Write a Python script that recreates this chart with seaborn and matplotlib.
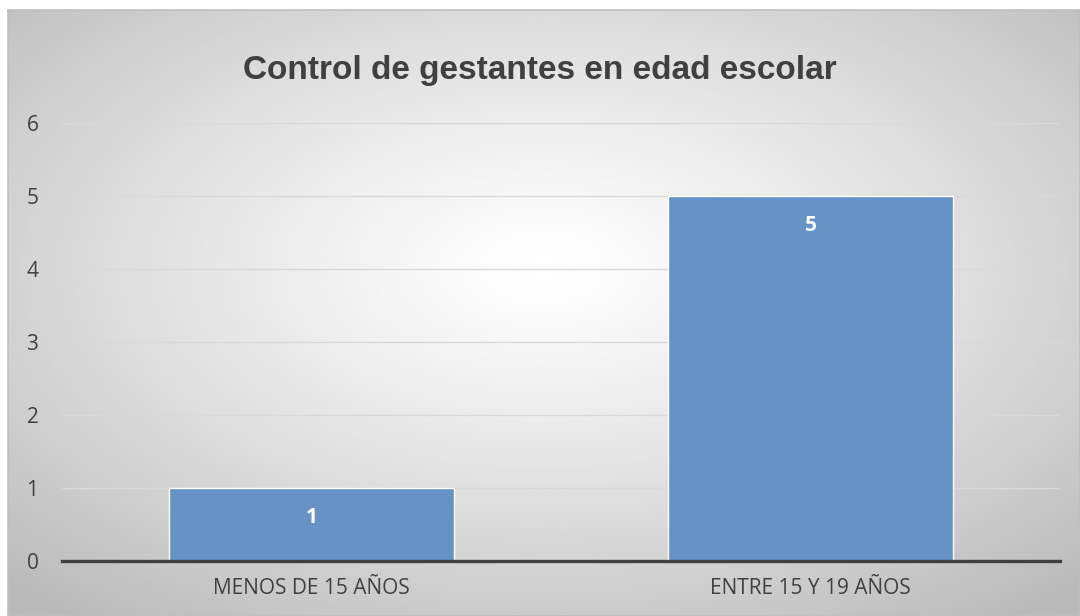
import numpy as np
import pandas as pd
import matplotlib
matplotlib.use("Agg")
import matplotlib.pyplot as plt
import seaborn as sns

# Data
categorias = ["MENOS DE 15 AÑOS", "ENTRE 15 Y 19 AÑOS"]
valores = [1, 5]
titulo = "Control de gestantes en edad escolar"

df = pd.DataFrame({"grupo": categorias, "gestantes": valores})

sns.set_theme(style="white")
plt.rcParams["font.family"] = ["Open Sans", "DejaVu Sans"]

fig = plt.figure(figsize=(10.8, 6.16), dpi=100)
fig.patch.set_facecolor("white")

# Radial gradient background (chart area)
bg = fig.add_axes([8 / 1080, 0, 1 - 8 / 1080, 1 - 10 / 616])
xx, yy = np.meshgrid(np.linspace(-1, 1, 400), np.linspace(-1, 1, 240))
r = np.sqrt(xx ** 2 + (yy + 0.15) ** 2)
r = np.clip(r / 1.45, 0, 1)
shade = 1.0 - 0.27 * r ** 1.2
bg.imshow(shade, cmap="gray", vmin=0, vmax=1, aspect="auto",
          extent=[0, 1, 0, 1], interpolation="bilinear")
bg.set_xticks([])
bg.set_yticks([])
for s in bg.spines.values():
    s.set_color("#bfbfbf")
    s.set_linewidth(1.2)

# Main plot
ax = fig.add_axes([62 / 1080, 1 - 561 / 616, 998 / 1080, 438 / 616])
ax.patch.set_alpha(0)
sns.barplot(data=df, x="grupo", y="gestantes", color="#6692c6",
            width=0.57, edgecolor="white", linewidth=1, saturation=1, ax=ax)

ax.set_ylim(0, 6)
ax.set_yticks(range(0, 7))
ax.yaxis.grid(True, color="#d9d9d9", linewidth=1)
ax.set_axisbelow(True)
ax.set_xlabel("")
ax.set_ylabel("")
for side in ["left", "right", "top"]:
    ax.spines[side].set_visible(False)
ax.spines["bottom"].set_color("#404040")
ax.spines["bottom"].set_linewidth(2.4)
ax.tick_params(axis="both", length=0, labelsize=15, colors="#404040")
ax.tick_params(axis="x", pad=12)
ax.tick_params(axis="y", pad=17)

for i, v in enumerate(valores):
    ax.text(i, v - 0.4, str(v), ha="center", va="center", color="white",
            fontsize=15, fontweight="bold")

fig.text(0.5, 1 - 79 / 616, titulo, ha="center", va="baseline",
         fontsize=24, fontweight="bold", color="#404040",
         family=["Liberation Sans", "DejaVu Sans"])

fig.savefig("out.png", dpi=100)
